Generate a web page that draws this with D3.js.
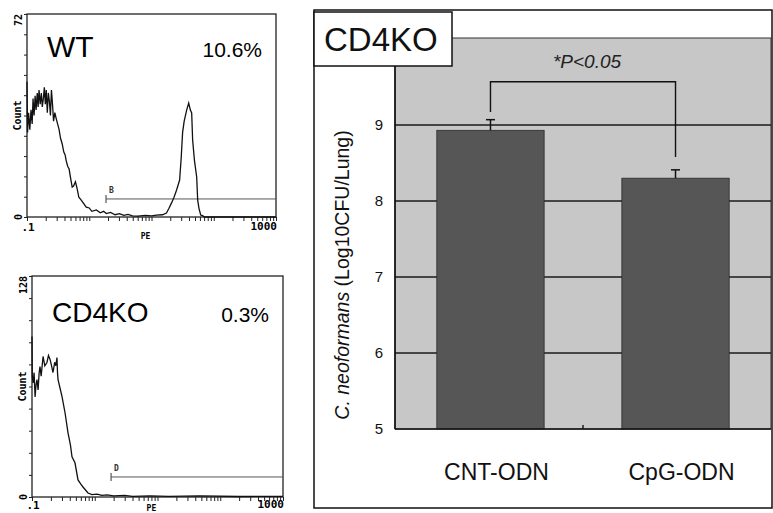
<!DOCTYPE html>
<html>
<head>
<meta charset="utf-8">
<script src="https://cdnjs.cloudflare.com/ajax/libs/d3/7.8.5/d3.min.js"></script>
<style>
    body { margin: 0; background: #fff; }
    svg { display: block; font-family: "Liberation Sans", Arial, sans-serif; }
    .mono { font-family: "DejaVu Sans Mono", monospace; font-weight: bold; }
</style>
</head>
<body>
<div id="vis"></div>
<script>
// flow histograms (PE intensity, event count)
var wtPE = [0.1, 0.102, 0.106, 0.111, 0.116, 0.121, 0.125, 0.13, 0.135, 0.14, 0.146, 0.151, 0.156, 0.163, 0.17, 0.176, 0.183, 0.19, 0.197, 0.204, 0.212, 0.22, 0.229, 0.238, 0.247, 0.257, 0.267, 0.28, 0.294, 0.31, 0.328, 0.345, 0.367, 0.39, 0.41, 0.426, 0.45, 0.475, 0.5, 0.532, 0.56, 0.6, 0.64, 0.68, 0.743, 0.8, 0.895, 1.0, 1.1, 1.3, 1.5, 1.7, 1.88, 2.2, 2.6, 3.05, 3.6, 4.2, 4.94, 6, 8, 10, 12, 15, 17.4, 19, 21, 23, 25.3, 28.3, 30, 31.6, 33.5, 36.7, 39.6, 42, 44.2, 45.8, 49, 53.2, 55.2, 58, 61.7, 66, 71.6, 1000];
var wtCount = [48, 30, 37, 31, 38, 33, 42, 36, 43, 38, 44, 39, 45, 40, 44, 39, 42, 46, 40, 45, 37, 44, 41, 36, 45, 40, 34, 37, 35, 33, 31, 28, 26, 23, 22, 20, 18, 17, 14, 10.6, 11, 12.5, 10, 7, 6, 5, 3.5, 3.2, 2.0, 2.5, 1.5, 2.0, 1.2, 1.6, 0.8, 1.2, 0.6, 0.9, 0.4, 0.3, 0.6, 0.4, 0.7, 0.8, 1.4, 3, 5, 7, 9.6, 13.1, 21, 30, 34, 37.9, 40.4, 38, 36.9, 27.3, 20, 14.2, 6, 3, 0.7, 0.5, 0, 0];
var koPE = [0.1, 0.101, 0.104, 0.108, 0.112, 0.116, 0.12, 0.125, 0.13, 0.134, 0.14, 0.15, 0.16, 0.173, 0.183, 0.194, 0.205, 0.216, 0.23, 0.24, 0.25, 0.255, 0.26, 0.28, 0.301, 0.336, 0.375, 0.41, 0.434, 0.484, 0.541, 0.6, 0.65, 0.78, 0.9, 1.09, 1.3, 1.57, 2, 3, 4, 7.6, 15, 47, 200, 1000];
var koCount = [93, 70, 66, 72, 58, 65, 68, 62, 72, 75.6, 70, 81.4, 76, 77.9, 82, 79.7, 76, 72.1, 78, 76, 80.8, 72, 68, 63, 58.1, 48.8, 37.2, 30, 23.3, 19.8, 9.9, 7.5, 5.8, 2.3, 1.4, 1.7, 0.9, 1.2, 0.6, 0.9, 0.4, 0.6, 0.4, 0.6, 0.3, 0.4];
var histNames = ['WT', 'CD4KO'];
var histPercent = ['10.6%', '0.3%'];
var histMax = [72, 128];
var gateStart = [1.86, 1.82];
var gateLevel = [6.4, 11.6];
var gateName = ['B', 'D'];

// lung CFU bar chart
var groups = ['CNT-ODN', 'CpG-ODN'];
var cfuMean = [8.93, 8.30];
var cfuErr = [0.14, 0.11];
var cfuTicks = [5, 6, 7, 8, 9];
var bracketTop = 9.57;
var bracketLegs = [9.17, 8.58];
var pText = '*P<0.05';

var width = 773,
    height = 513;

var svg = d3.select('#vis')
            .append('svg')
            .attr('width', width)
            .attr('height', height);

var drawHist = (i, box, pe, count) => {
    var x = d3.scaleLog().domain([0.1, 1000]).range([box.left, box.right]);
    var y = d3.scaleLinear().domain([0, histMax[i]]).range([box.bottom, box.top]);
    var g = svg.append('g');

    g.append('rect')
     .attr('x', box.left)
     .attr('y', box.top)
     .attr('width', box.right - box.left)
     .attr('height', box.bottom - box.top)
     .attr('fill', 'none')
     .attr('stroke', '#222')
     .attr('stroke-width', 1.3);

    var yAxis = d3.axisLeft(y)
                  .tickValues(d3.range(11).map((k) => k * histMax[i] / 10))
                  .tickSize(3)
                  .tickFormat('');
    g.append('g')
     .attr('transform', `translate(${box.left},0)`)
     .call(yAxis)
     .call((a) => a.select('.domain').remove());

    var xAxis = d3.axisBottom(x).tickSize(4).tickFormat('');
    g.append('g')
     .attr('transform', `translate(0,${box.bottom})`)
     .call(xAxis)
     .call((a) => a.select('.domain').remove());
    g.selectAll('.tick line').attr('stroke', '#222');

    // rotated count labels
    g.append('text').attr('class', 'mono')
     .attr('transform', `translate(${box.left - 5},${box.top}) rotate(-90)`)
     .attr('text-anchor', 'end').attr('font-size', 10)
     .text(histMax[i]);
    g.append('text').attr('class', 'mono')
     .attr('transform', `translate(${box.left - 5},${box.bottom}) rotate(-90)`)
     .attr('text-anchor', 'middle').attr('font-size', 10)
     .text('0');
    g.append('text').attr('class', 'mono')
     .attr('transform', `translate(${box.left - 6},${(box.top + box.bottom) / 2}) rotate(-90)`)
     .attr('text-anchor', 'middle').attr('font-size', 10)
     .text('Count');

    g.append('text').attr('class', 'mono')
     .attr('x', x(0.1) + 1).attr('y', box.bottom + box.labY)
     .attr('text-anchor', 'middle').attr('font-size', 11)
     .text('.1');
    g.append('text').attr('class', 'mono')
     .attr('x', box.right + 1).attr('y', box.bottom + box.labY - 1)
     .attr('text-anchor', 'end').attr('font-size', 11)
     .text('1000');
    g.append('text').attr('class', 'mono')
     .attr('x', x(8)).attr('y', box.bottom + box.peY)
     .attr('text-anchor', 'middle').attr('font-size', 8)
     .text('PE');

    // marker gate
    g.append('line')
     .attr('x1', x(gateStart[i])).attr('x2', box.right)
     .attr('y1', y(gateLevel[i])).attr('y2', y(gateLevel[i]))
     .attr('stroke', '#555').attr('stroke-width', 1);
    g.append('line')
     .attr('x1', x(gateStart[i])).attr('x2', x(gateStart[i]))
     .attr('y1', y(gateLevel[i]) - 4).attr('y2', y(gateLevel[i]) + 4)
     .attr('stroke', '#555').attr('stroke-width', 1.2);
    g.append('text').attr('class', 'mono')
     .attr('x', x(gateStart[i]) + 3).attr('y', y(gateLevel[i]) - 6)
     .attr('font-size', 8).attr('font-weight', 'normal').attr('fill', '#333')
     .text(gateName[i]);

    var line = d3.line().x((d) => x(d[0])).y((d) => y(d[1]));
    g.append('path')
     .datum(d3.zip(pe, count))
     .attr('d', line)
     .attr('fill', 'none')
     .attr('stroke', '#111')
     .attr('stroke-width', 1.3);

    g.append('text')
     .attr('x', box.left + 20).attr('y', box.top + box.nameY)
     .attr('font-size', box.nameSize)
     .text(histNames[i]);
    g.append('text')
     .attr('x', box.right - 14).attr('y', box.top + box.nameY)
     .attr('text-anchor', 'end')
     .attr('font-size', 21)
     .text(histPercent[i]);
};

drawHist(0, {left: 27, right: 276, top: 14, bottom: 217, nameY: 43, nameSize: 30, labY: 14, peY: 22}, wtPE, wtCount);
drawHist(1, {left: 32, right: 283, top: 276, bottom: 497, nameY: 46, nameSize: 28, labY: 12, peY: 14}, koPE, koCount);

// right panel
var plot = {left: 395, right: 771, top: 38, bottom: 429};

svg.append('rect')
   .attr('x', 314).attr('y', 10)
   .attr('width', 458).attr('height', 498)
   .attr('fill', '#fff').attr('stroke', '#111').attr('stroke-width', 1.5);

var xScale = d3.scaleBand()
               .domain(groups)
               .range([plot.left, plot.right])
               .paddingInner(0.42)
               .paddingOuter(0.226);
var yScale = d3.scaleLinear()
               .domain([5, 9])
               .range([plot.bottom, 125]);

svg.append('rect')
   .attr('x', plot.left).attr('y', plot.top)
   .attr('width', plot.right - plot.left).attr('height', plot.bottom - plot.top)
   .attr('fill', '#c7c7c7').attr('stroke', '#333').attr('stroke-width', 1);

svg.append('g')
   .selectAll('line')
   .data(cfuTicks.slice(1))
   .enter()
   .append('line')
   .attr('x1', plot.left).attr('x2', plot.right)
   .attr('y1', (d) => yScale(d)).attr('y2', (d) => yScale(d))
   .attr('stroke', '#1a1a1a').attr('stroke-width', 1.6);

var yAxis = d3.axisLeft(yScale)
              .tickValues(cfuTicks)
              .tickFormat(d3.format('d'))
              .tickSize(0)
              .tickPadding(12);
svg.append('g')
   .attr('transform', `translate(${plot.left},0)`)
   .call(yAxis)
   .call((a) => a.select('.domain').remove())
   .selectAll('text')
   .attr('font-size', 15)
   .attr('font-family', '"Liberation Sans", Arial, sans-serif')
   .attr('fill', '#111');

svg.append('g')
   .selectAll('rect')
   .data(groups)
   .enter()
   .append('rect')
   .attr('x', (d) => xScale(d))
   .attr('y', (d, i) => yScale(cfuMean[i]))
   .attr('width', xScale.bandwidth())
   .attr('height', (d, i) => yScale(5) - yScale(cfuMean[i]))
   .attr('fill', '#565656')
   .attr('stroke', '#2a2a2a').attr('stroke-width', 0.8);

// upper error bars
var err = svg.append('g').attr('stroke', '#111').attr('stroke-width', 1.5);
groups.forEach((d, i) => {
    var cx = xScale(d) + xScale.bandwidth() / 2;
    err.append('line')
       .attr('x1', cx).attr('x2', cx)
       .attr('y1', yScale(cfuMean[i])).attr('y2', yScale(cfuMean[i] + cfuErr[i]));
    err.append('line')
       .attr('x1', cx - 4.5).attr('x2', cx + 4.5)
       .attr('y1', yScale(cfuMean[i] + cfuErr[i])).attr('y2', yScale(cfuMean[i] + cfuErr[i]));
});

// axis lines
svg.append('line')
   .attr('x1', plot.left).attr('x2', plot.left)
   .attr('y1', plot.top).attr('y2', plot.bottom)
   .attr('stroke', '#111').attr('stroke-width', 1.6);
svg.append('line')
   .attr('x1', plot.left).attr('x2', plot.right)
   .attr('y1', plot.bottom).attr('y2', plot.bottom)
   .attr('stroke', '#111').attr('stroke-width', 1.6);
var midTick = xScale(groups[1]) - xScale.step() * xScale.paddingInner() / 2;
svg.append('line')
   .attr('x1', midTick).attr('x2', midTick)
   .attr('y1', plot.bottom).attr('y2', plot.bottom - 4)
   .attr('stroke', '#111').attr('stroke-width', 1.4);

// significance bracket
var c0 = xScale(groups[0]) + xScale.bandwidth() / 2,
    c1 = xScale(groups[1]) + xScale.bandwidth() / 2;
svg.append('path')
   .attr('d', `M${c0},${yScale(bracketLegs[0])}V${yScale(bracketTop)}H${c1}V${yScale(bracketLegs[1])}`)
   .attr('fill', 'none').attr('stroke', '#111').attr('stroke-width', 1.4);
svg.append('text')
   .attr('x', (c0 + c1) / 2 + 4).attr('y', 68)
   .attr('text-anchor', 'middle')
   .attr('font-size', 19).attr('font-style', 'italic').attr('fill', '#222')
   .text(pText);

svg.append('g')
   .selectAll('text')
   .data(groups)
   .enter()
   .append('text')
   .attr('x', (d) => xScale(d) + xScale.bandwidth() / 2 + 6)
   .attr('y', 480)
   .attr('text-anchor', 'middle')
   .attr('font-size', 23)
   .attr('fill', '#111')
   .text((d) => d);

var yTitle = svg.append('text')
                .attr('transform', `translate(349,275) rotate(-90)`)
                .attr('text-anchor', 'middle')
                .attr('font-size', 19.5)
                .attr('fill', '#111');
yTitle.append('tspan').attr('font-style', 'italic').text('C. neoformans');
yTitle.append('tspan').text(' (Log10CFU/Lung)');

// panel label box
svg.append('rect')
   .attr('x', 314).attr('y', 12)
   .attr('width', 138).attr('height', 54)
   .attr('fill', '#fff').attr('stroke', '#111').attr('stroke-width', 1.5);
svg.append('text')
   .attr('x', 324).attr('y', 51)
   .attr('font-size', 33)
   .attr('fill', '#111')
   .text('CD4KO');
</script>
</body>
</html>
